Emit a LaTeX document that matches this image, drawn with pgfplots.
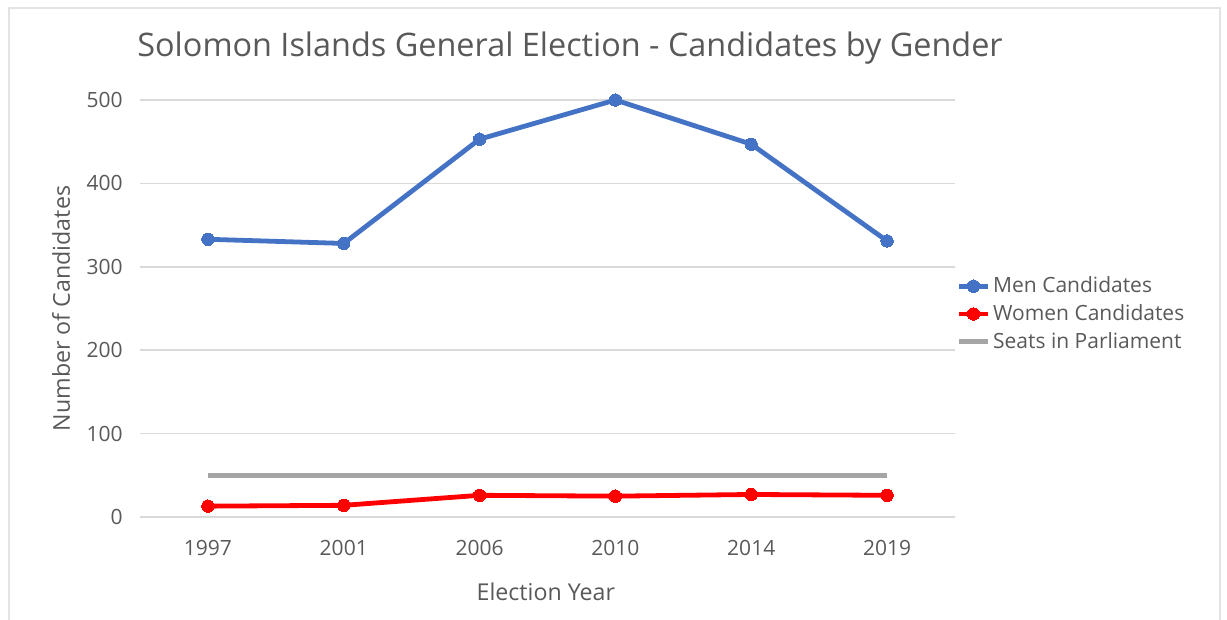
\documentclass[border=0pt]{standalone}
\usepackage{fontspec}
\setmainfont{Open Sans}
\usepackage{pgfplots}
\pgfplotsset{compat=1.18}
\definecolor{menblue}{HTML}{4472C4}
\definecolor{womenred}{HTML}{FF0000}
\definecolor{seatgrey}{HTML}{A5A5A5}
\definecolor{gridgrey}{HTML}{D9D9D9}
\definecolor{txt}{HTML}{595959}
\definecolor{framegrey}{HTML}{E3E3E3}
\begin{document}
\begin{tikzpicture}
\path[use as bounding box] (-70pt,-51.5pt) rectangle (543.5pt,258.5pt);
\draw[framegrey, line width=1.2pt] (-65.5pt,-53pt) -- (-65.5pt,254.5pt) -- (540pt,254.5pt) -- (540pt,-53pt);
\begin{axis}[
  at={(0pt,0pt)}, anchor=south west,
  scale only axis, width=407.5pt, height=208.5pt,
  xmin=-0.5, xmax=5.5, ymin=0, ymax=500,
  clip=false,
  xtick={0,...,5},
  xticklabels={1997,2001,2006,2010,2014,2019},
  ytick={0,100,...,500},
  ymajorgrids,
  grid style={gridgrey, line width=0.8pt},
  axis line style={draw=none},
  major tick length=0pt,
  /pgf/number format/assume math mode=true,
  tick label style={font=\fontsize{10.5}{12}\selectfont, text=txt},
  xticklabel style={anchor=base, yshift=-19.5pt},
  yticklabel style={anchor=east, inner sep=0pt, xshift=-8.5pt},
  xlabel={Election Year},
  ylabel={Number of Candidates},
  label style={font=\fontsize{11.6}{13}\selectfont, text=txt},
  xlabel style={at={(axis description cs:0.498,-0.2014)}, anchor=base, inner sep=0pt},
  ylabel style={at={(axis description cs:-0.0969,0.5)}, anchor=center, inner sep=0pt},
  title={Solomon Islands General Election - Candidates by Gender},
  title style={at={(axis description cs:-0.0037,1.0767)}, anchor=base west, inner sep=0pt, font=\fontsize{16.2}{19}\selectfont, text=txt},
  legend style={at={(axis description cs:1.0012,0.487)}, anchor=west, draw=none, fill=none, inner sep=0pt,
    font=\fontsize{10.5}{12}\selectfont, text=txt, row sep=1.8pt, cells={anchor=west},
    nodes={inner sep=1.3pt}},
  legend image code/.code={\draw[mark repeat=2,mark phase=2,#1] plot coordinates {(0pt,0pt)(7.25pt,0pt)(14.5pt,0pt)};},
]
\addplot[menblue, line width=2.4pt, mark=*, mark size=3.1pt, mark options={fill=menblue, draw=menblue, line width=0pt}]
  coordinates {(0,333) (1,328) (2,453) (3,500) (4,447) (5,331)};
\addlegendentry{Men Candidates}
\addplot[womenred, line width=2.4pt, mark=*, mark size=3.1pt, mark options={fill=womenred, draw=womenred, line width=0pt}]
  coordinates {(0,13) (1,14) (2,26) (3,25) (4,27) (5,26)};
\addlegendentry{Women Candidates}
\addplot[seatgrey, line width=2.6pt]
  coordinates {(0,50) (1,50) (2,50) (3,50) (4,50) (5,50)};
\addlegendentry{Seats in Parliament}
\end{axis}
\end{tikzpicture}
\end{document}
